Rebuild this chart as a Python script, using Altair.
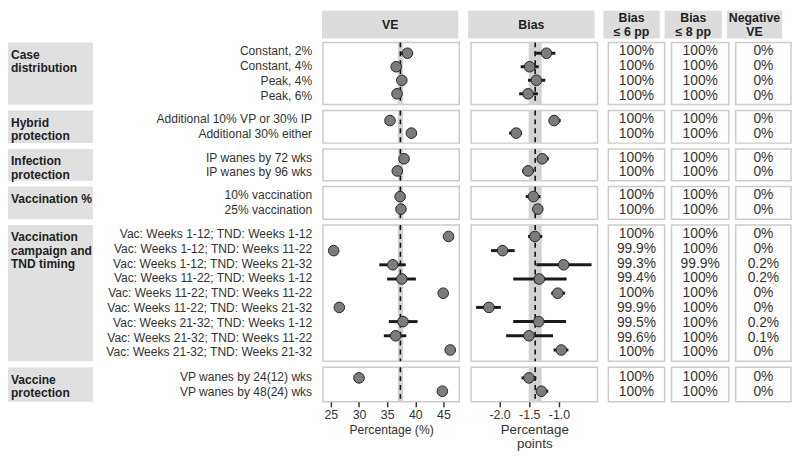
import altair as alt
import pandas as pd

FONT = "Liberation Sans"
TXT = "#333333"
DARK = "#222222"

# ---------------- data ----------------
groups = ["Case distribution", "Hybrid protection", "Infection protection",
          "Vaccination %", "Vaccination campaign and TND timing", "Vaccine protection"]
group_lines = [["Case", "distribution"], ["Hybrid", "protection"], ["Infection", "protection"],
               ["Vaccination %"], ["Vaccination", "campaign and", "TND timing"],
               ["Vaccine", "protection"]]
row_group = [0, 0, 0, 0, 1, 1, 2, 2, 3, 3, 4, 4, 4, 4, 4, 4, 4, 4, 4, 5, 5]
row_labels = [
    "Constant, 2%", "Constant, 4%", "Peak, 4%", "Peak, 6%",
    "Additional 10% VP or 30% IP", "Additional 30% either",
    "IP wanes by 72 wks", "IP wanes by 96 wks",
    "10% vaccination", "25% vaccination",
    "Vac: Weeks 1-12; TND: Weeks 1-12", "Vac: Weeks 1-12; TND: Weeks 11-22",
    "Vac: Weeks 1-12; TND: Weeks 21-32", "Vac: Weeks 11-22; TND: Weeks 1-12",
    "Vac: Weeks 11-22; TND: Weeks 11-22", "Vac: Weeks 11-22; TND: Weeks 21-32",
    "Vac: Weeks 21-32; TND: Weeks 1-12", "Vac: Weeks 21-32; TND: Weeks 11-22",
    "Vac: Weeks 21-32; TND: Weeks 21-32",
    "VP wanes by 24(12) wks", "VP wanes by 48(24) wks",
]
ve = [38.6, 36.6, 37.6, 36.75, 35.5, 39.3, 38.0, 36.8, 37.3, 37.45,
      45.9, 25.5, 36.0, 37.6, 44.95, 26.5, 37.8, 36.5, 46.2, 30.0, 44.8]
ve_lo = [37.4, 36.0, 37.0, 36.1, 35.0, 38.8, 37.4, 36.2, 36.8, 37.0,
         45.5, 25.1, 33.6, 35.0, 44.5, 26.1, 35.3, 34.4, 45.8, 29.6, 44.4]
ve_hi = [39.6, 37.2, 38.2, 37.4, 36.0, 39.8, 38.6, 37.4, 37.8, 37.9,
         46.3, 25.9, 38.3, 40.1, 45.4, 26.9, 40.4, 38.4, 46.6, 30.4, 45.2]
bias = [-1.21, -1.495, -1.38, -1.52, -1.08, -1.72, -1.28, -1.52, -1.43, -1.355,
        -1.405, -1.95, -0.92, -1.33, -1.02, -2.18, -1.34, -1.505, -0.96, -1.505, -1.295]
bias_lo = [-1.41, -1.645, -1.52, -1.67, -1.17, -1.84, -1.37, -1.62, -1.56, -1.44,
           -1.52, -2.145, -1.38, -1.77, -1.13, -2.395, -1.77, -1.89, -1.09, -1.63, -1.38]
bias_hi = [-1.06, -1.34, -1.23, -1.355, -0.97, -1.62, -1.17, -1.42, -1.31, -1.27,
           -1.28, -1.745, -0.45, -0.87, -0.895, -1.98, -0.88, -1.10, -0.84, -1.38, -1.18]
bias6 = ["100%", "100%", "100%", "100%", "100%", "100%", "100%", "100%", "100%", "100%",
         "100%", "99.9%", "99.3%", "99.4%", "100%", "99.9%", "99.5%", "99.6%", "100%",
         "100%", "100%"]
bias8 = ["100%", "100%", "100%", "100%", "100%", "100%", "100%", "100%", "100%", "100%",
         "100%", "100%", "99.9%", "100%", "100%", "100%", "100%", "100%", "100%",
         "100%", "100%"]
neg_ve = ["0%", "0%", "0%", "0%", "0%", "0%", "0%", "0%", "0%", "0%",
          "0%", "0%", "0.2%", "0.2%", "0%", "0%", "0.2%", "0.1%", "0%",
          "0%", "0%"]
ve_ref, ve_ref_lo, ve_ref_hi = 37.35, 36.9, 37.85
bias_ref, bias_ref_lo, bias_ref_hi = -1.40, -1.51, -1.29
ve_ticks = [25, 30, 35, 40, 45]
bias_ticks = [-2.0, -1.5, -1.0]
ve_domain = [23.6, 47.8]
bias_domain = [-2.48, -0.35]

df = pd.DataFrame(dict(group=[groups[i] for i in row_group], label=row_labels,
                       ve=ve, ve_lo=ve_lo, ve_hi=ve_hi,
                       bias=bias, bias_lo=bias_lo, bias_hi=bias_hi,
                       b6=bias6, b8=bias8, neg=neg_ve))

# ---------------- layout ----------------
HDR_H = 28
panel_h = [63, 33, 32, 33, 138, 35]
W_GROUP, W_LAB, W_VE, W_BIAS = 86, 212, 138, 128
W_T1, W_T2, W_T3 = 57, 58, 56
BORDER = "#cccccc"
NOBORDER = alt.ViewBackground(stroke="transparent", strokeWidth=0)
ONE = pd.DataFrame({"a": [0]})


def yenc(order):
    return alt.Y("label:N", sort=order, axis=None, scale=alt.Scale(padding=0.6))


def panel(sub, f, lo, hi, rv, rlo, rhi, domain, ticks, fmt, title, last, w, h, tsize, tpad):
    order = list(sub.label)
    xscale = alt.Scale(domain=domain, nice=False, zero=False)
    if last:
        axis = alt.Axis(values=ticks, format=fmt, title=title, domain=False, grid=False,
                        ticks=True, tickSize=5, tickWidth=1.5, tickColor="#333333",
                        labelFontSize=12.5, labelColor=TXT, labelPadding=2,
                        labelExpr="replace(datum.label, '\u2212', '-')",
                        titleFontSize=tsize, titleFontWeight="normal", titleColor=TXT,
                        titlePadding=tpad, titleLineHeight=14)
    else:
        axis = None

    def X(field):
        return alt.X(field, type="quantitative", scale=xscale, axis=axis)

    refdf = pd.DataFrame({"ref": [rv], "lo": [rlo], "hi": [rhi]})
    band = alt.Chart(refdf).mark_rect(color="#d3d3d3").encode(x=X("lo"), x2="hi:Q")
    dash = alt.Chart(refdf).mark_rule(color="#111111", strokeWidth=1.6,
                                      strokeDash=[5, 4]).encode(x=X("ref"))
    base = alt.Chart(sub)
    err = base.mark_rule(color="#1a1a1a", strokeWidth=3).encode(
        x=X(lo), x2=f"{hi}:Q", y=yenc(order))
    pts = base.mark_circle(size=115, color="#7c7c7c", stroke="#262626",
                           strokeWidth=1, opacity=1).encode(x=X(f), y=yenc(order))
    return alt.layer(band, dash, err, pts).properties(width=w, height=h)


def table(sub, field, w, h):
    order = list(sub.label)
    return alt.Chart(sub).mark_text(fontSize=14, color=TXT, baseline="middle").encode(
        x=alt.value(w / 2), y=yenc(order), text=f"{field}:N"
    ).properties(width=w, height=h)


def blank(w, h):
    return alt.Chart(ONE).mark_rule(opacity=0).encode(
        x=alt.value(1), y=alt.value(1), y2=alt.value(h - 1)
    ).properties(width=w, height=h, view=NOBORDER)


def header(lines, w):
    lh = 13.5
    n = len(lines)
    layers = []
    for i, t in enumerate(lines):
        yc = HDR_H / 2 + (i - (n - 1) / 2) * lh + 0.5
        layers.append(alt.Chart(ONE).mark_text(
            text=t, fontWeight="bold", fontSize=12.5, color=DARK,
            baseline="middle", align="center"
        ).encode(x=alt.value(w / 2), y=alt.value(yc)))
    return alt.layer(*layers).properties(
        width=w, height=HDR_H,
        view=alt.ViewBackground(fill="#dcdcdc", stroke="transparent", strokeWidth=0))


def group_chart(lines, h):
    lh = 13.4
    layers = []
    for i, t in enumerate(lines):
        layers.append(alt.Chart(ONE).mark_text(
            text=t, align="left", baseline="middle", fontWeight="bold",
            fontSize=12.2, color=DARK
        ).encode(x=alt.value(3), y=alt.value(12.5 + i * lh)))
    return alt.layer(*layers).properties(
        width=W_GROUP, height=h,
        view=alt.ViewBackground(fill="#e0e0e0", stroke="transparent", strokeWidth=0))


rows = []
rows.append(alt.hconcat(
    alt.hconcat(blank(W_GROUP, HDR_H), blank(W_LAB, HDR_H), header(["VE"], W_VE),
                header(["Bias"], W_BIAS), spacing=10),
    alt.hconcat(header(["Bias", "\u2264 6 pp"], W_T1), header(["Bias", "\u2264 8 pp"], W_T2),
                header(["Negative", "VE"], W_T3), spacing=5),
    spacing=9))

for gi, g in enumerate(groups):
    sub = df[df.group == g].reset_index(drop=True)
    h = panel_h[gi]
    last = gi == len(groups) - 1
    order = list(sub.label)
    gchart = group_chart(group_lines[gi], h)
    lchart = alt.Chart(sub).mark_text(align="right", baseline="middle", fontSize=12.2,
                                      color=TXT).encode(
        x=alt.value(W_LAB), y=yenc(order), text="label:N"
    ).properties(width=W_LAB, height=h, view=NOBORDER)
    vep = panel(sub, "ve", "ve_lo", "ve_hi", ve_ref, ve_ref_lo, ve_ref_hi, ve_domain,
                ve_ticks, "d", "Percentage (%)", last, W_VE, h, 12.3, 3)
    bip = panel(sub, "bias", "bias_lo", "bias_hi", bias_ref, bias_ref_lo, bias_ref_hi,
                bias_domain, bias_ticks, ".1f", ["Percentage", "points"], last, W_BIAS, h,
                13.5, 2)
    rows.append(alt.hconcat(
        alt.hconcat(gchart, lchart, vep, bip, spacing=10),
        alt.hconcat(table(sub, "b6", W_T1, h), table(sub, "b8", W_T2, h),
                    table(sub, "neg", W_T3, h), spacing=5),
        spacing=9))

chart = alt.vconcat(*rows, spacing=2).properties(
    padding={"left": 0, "top": 0, "right": 0, "bottom": 0}
).configure(font=FONT, background="#ffffff").configure_view(
    stroke=BORDER, strokeWidth=1.5).configure_axis(labelFont=FONT, titleFont=FONT)

chart.save("out.html", embed_options={"renderer": "svg", "actions": False})
